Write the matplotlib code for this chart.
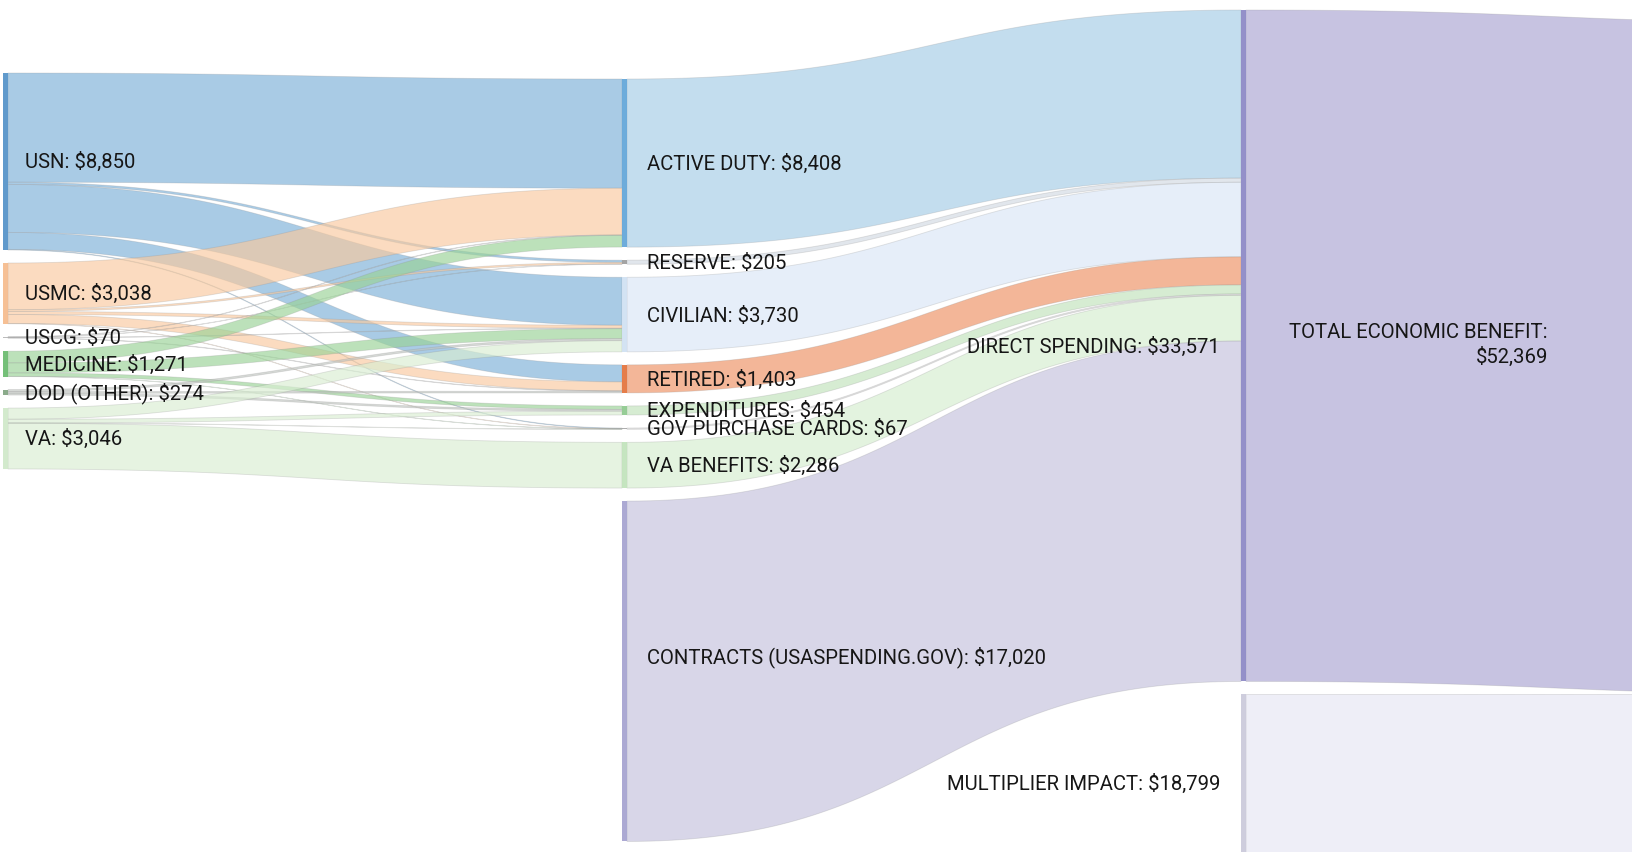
import numpy as np
import matplotlib.pyplot as plt
from matplotlib.patches import Polygon, Rectangle
from matplotlib.colors import to_rgb

plt.rcParams['font.family'] = ['Roboto', 'DejaVu Sans']

# ---- data (millions of $) ----
source_names = ['USN', 'USMC', 'USCG', 'MEDICINE', 'DOD (OTHER)', 'VA']
source_values = [8850, 3038, 70, 1271, 274, 3046]
middle_names = ['ACTIVE DUTY', 'RESERVE', 'CIVILIAN', 'RETIRED', 'EXPENDITURES',
                'GOV PURCHASE CARDS', 'VA BENEFITS', 'CONTRACTS (USASPENDING.GOV)']
middle_values = [8408, 205, 3730, 1403, 454, 67, 2286, 17020]
impact_names = ['DIRECT SPENDING', 'MULTIPLIER IMPACT']
impact_values = [33571, 18799]
total_names = ['TOTAL ECONOMIC BENEFIT']
total_values = [52369]

link_from = ['USN', 'USN', 'USN', 'USN', 'USN',
             'USMC', 'USMC', 'USMC', 'USMC', 'USMC',
             'USCG', 'USCG', 'USCG', 'USCG',
             'MEDICINE', 'MEDICINE', 'MEDICINE', 'MEDICINE',
             'DOD (OTHER)', 'DOD (OTHER)', 'DOD (OTHER)',
             'VA', 'VA', 'VA', 'VA']
link_to = ['ACTIVE DUTY', 'RESERVE', 'CIVILIAN', 'RETIRED', 'GOV PURCHASE CARDS',
           'ACTIVE DUTY', 'RESERVE', 'CIVILIAN', 'RETIRED', 'GOV PURCHASE CARDS',
           'ACTIVE DUTY', 'RESERVE', 'CIVILIAN', 'RETIRED',
           'ACTIVE DUTY', 'CIVILIAN', 'EXPENDITURES', 'GOV PURCHASE CARDS',
           'CIVILIAN', 'RETIRED', 'EXPENDITURES',
           'CIVILIAN', 'EXPENDITURES', 'GOV PURCHASE CARDS', 'VA BENEFITS']
link_values = [5460, 110, 2400, 850, 30,
               2338, 85, 150, 450, 15,
               20, 10, 20, 20,
               586, 500, 175, 10,
               100, 83, 91,
               560, 188, 12, 2286]
# every middle node feeds direct spending, then both impacts feed the total
for name, v in zip(middle_names, middle_values):
    link_from.append(name); link_to.append('DIRECT SPENDING'); link_values.append(v)
link_from += ['DIRECT SPENDING', 'MULTIPLIER IMPACT']
link_to += ['TOTAL ECONOMIC BENEFIT', 'TOTAL ECONOMIC BENEFIT']
link_values += [33571, 18799]

node_color = {
    'USN': '#4f8fc7', 'USMC': '#f5b98a', 'USCG': '#b5b5b5', 'MEDICINE': '#66b96a',
    'DOD (OTHER)': '#7fa27f', 'VA': '#cfe8c8',
    'ACTIVE DUTY': '#5da3d8', 'RESERVE': '#9a9a9a', 'CIVILIAN': '#cfe0f2',
    'RETIRED': '#e36f36', 'EXPENDITURES': '#8bc88b', 'GOV PURCHASE CARDS': '#a5a5a5',
    'VA BENEFITS': '#bfe3b9', 'CONTRACTS (USASPENDING.GOV)': '#a3a0cf',
    'DIRECT SPENDING': '#8884c4', 'MULTIPLIER IMPACT': '#c9c8da',
    'TOTAL ECONOMIC BENEFIT': '#8884c4'}
# colour of each source's outgoing ribbons as seen on white
ribbon_color = {
    'USN': '#aacbe5', 'USMC': '#fbdcc0', 'USCG': '#d9d9d9', 'MEDICINE': '#bde2bb',
    'DOD (OTHER)': '#d6d9d6', 'VA': '#e6f4e2',
    'ACTIVE DUTY': '#c4ddef', 'RESERVE': '#e2e6ec', 'CIVILIAN': '#e6eff9',
    'RETIRED': '#f3b798', 'EXPENDITURES': '#d6edd3', 'GOV PURCHASE CARDS': '#e3e3e3',
    'VA BENEFITS': '#e3f3df', 'CONTRACTS (USASPENDING.GOV)': '#d8d7e9',
    'DIRECT SPENDING': '#c7c3e1', 'MULTIPLIER IMPACT': '#efeef7'}

# ---- layout ----
px_per_usd = 0.02
col_px = 619
gap = 650                       # node padding in $
col_top = [3650, 3950, 500, 1150]
node_w = 5 / col_px
alpha = 0.65

columns = [source_names, middle_names, impact_names, total_names]
col_of = {n: c for c, names in enumerate(columns) for n in names}
inflow = {n: 0 for n in col_of}
outflow = {n: 0 for n in col_of}
for s, t, v in zip(link_from, link_to, link_values):
    outflow[s] += v
    inflow[t] += v
height = {n: max(inflow[n], outflow[n]) for n in col_of}

node_y = {}
for c, names in enumerate(columns):
    y = col_top[c]
    for n in names:
        node_y[n] = y
        y += height[n] + gap
order = {n: i for names in columns for i, n in enumerate(names)}


def tint(hex_color, a):
    rgb = np.array(to_rgb(hex_color))
    base = 1 - (1 - rgb) / a
    return tuple(np.clip(base, 0, 1)) + (a,)


fig = plt.figure(figsize=(16.32, 8.52), dpi=100)
ax = fig.add_axes([0, 0, 1, 1])
ax.set_xlim(-3 / col_px, 1629 / col_px)
ax.set_ylim(852 / px_per_usd, 0)
ax.axis('off')

links = list(zip(link_from, link_to, link_values))
out_off = dict(node_y)
in_off = dict(node_y)
geo = {}
for s, t, v in sorted(links, key=lambda l: (col_of[l[0]], order[l[0]], order[l[1]])):
    geo[(s, t)] = [out_off[s], None]
    out_off[s] += v
for s, t, v in sorted(links, key=lambda l: (col_of[l[1]], order[l[1]], order[l[0]])):
    geo[(s, t)][1] = in_off[t]
    in_off[t] += v

tt = np.linspace(0, 1, 80)
for s, t, v in links:
    y0, y1 = geo[(s, t)]
    xs = col_of[s] + node_w
    xt = col_of[t]
    xm = (xs + xt) / 2
    bx = (1 - tt) ** 3 * xs + 3 * (1 - tt) ** 2 * tt * xm + 3 * (1 - tt) * tt ** 2 * xm + tt ** 3 * xt
    ease = 3 * tt ** 2 - 2 * tt ** 3
    top = y0 + (y1 - y0) * ease
    bot = top + v
    pts = np.vstack([np.column_stack([bx, top]), np.column_stack([bx[::-1], bot[::-1]])])
    ax.add_patch(Polygon(pts, closed=True, facecolor=tint(ribbon_color[s], alpha),
                         edgecolor=(0.55, 0.55, 0.55, 0.25), lw=0.6))

for n in col_of:
    ax.add_patch(Rectangle((col_of[n], node_y[n]), node_w, max(height[n], 40),
                           facecolor=node_color[n], edgecolor='none', alpha=0.9))

# ---- labels ----
values = dict(zip(source_names + middle_names + impact_names + total_names,
                  source_values + middle_values + impact_values + total_values))
label_dx = [22 / col_px, 25 / col_px, -21 / col_px, -312 / col_px]
label_nudge = {'CONTRACTS (USASPENDING.GOV)': -750, 'MULTIPLIER IMPACT': -4950,
               'TOTAL ECONOMIC BENEFIT': -10150}
for n in col_of:
    c = col_of[n]
    y = node_y[n] + height[n] / 2 + 40 + label_nudge.get(n, 0)
    if c == 3:
        txt = f'{n}:\n${values[n]:,}'
    else:
        txt = f'{n}: ${values[n]:,}'
    ax.text(c + label_dx[c], y, txt, ha='left' if c < 2 else 'right', va='center',
            fontsize=14.6, color='#161616', multialignment='right', linespacing=1.3)

fig.savefig('out.png', dpi=100)
